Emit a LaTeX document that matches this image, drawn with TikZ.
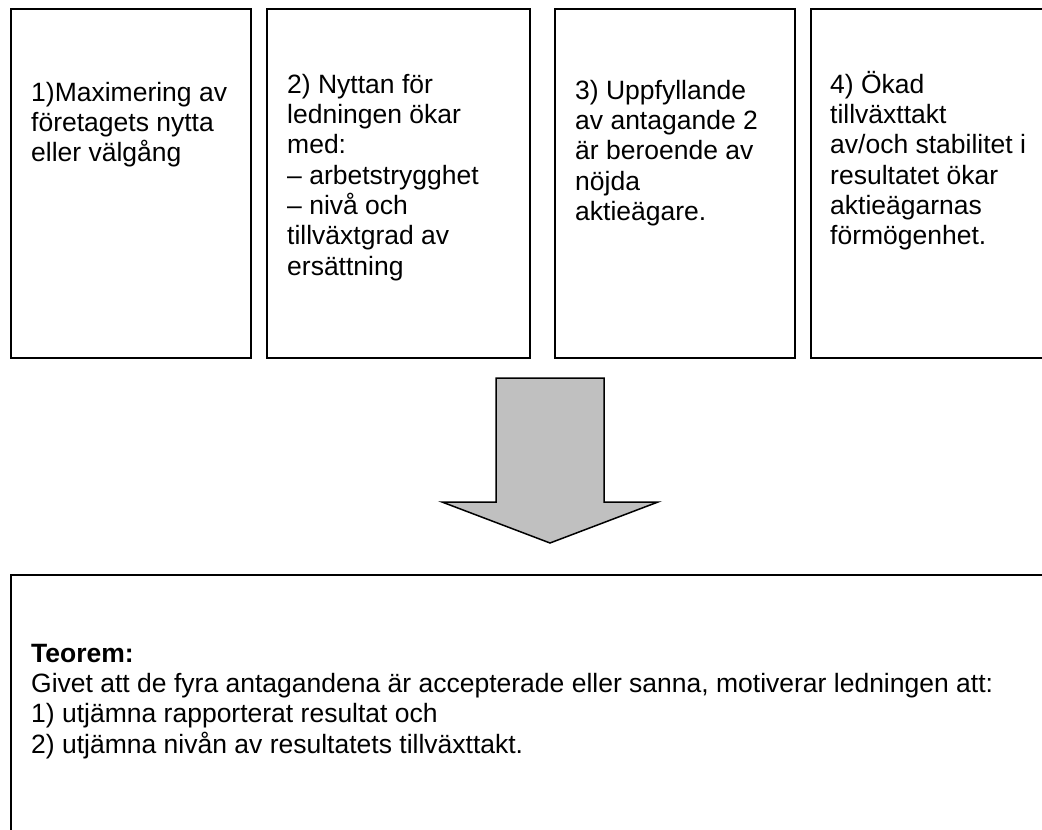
\documentclass[tikz,border=0pt]{standalone}
\usepackage{fontspec}
\setmainfont{Liberation Sans}
\definecolor{arrowgray}{HTML}{C0C0C0}
\begin{document}
\begin{tikzpicture}[x=1pt,y=-1pt,
  box/.style={draw=black,line width=2pt,rectangle,inner sep=0pt,anchor=north west},
  txt/.style={anchor=north west,inner sep=0pt,align=left,font=\fontsize{26.5}{30.3}\selectfont},
  bigarrow/.style={draw=black,line width=1.5pt,fill=arrowgray,line join=miter}]
\useasboundingbox (0,0) rectangle (1042,830);
\node[box,minimum width=240pt,minimum height=349pt] (b1) at (10,8) {};
\node[box,minimum width=263pt,minimum height=349pt] (b2) at (266,8) {};
\node[box,minimum width=240pt,minimum height=349pt] (b3) at (554,8) {};
\node[box,minimum width=250pt,minimum height=349pt] (b4) at (810,8) {};
\node[box,minimum width=1045pt,minimum height=270pt] (bb) at (10,574) {};
\node[txt] (t1) at (31,76) {\rule{0pt}{25pt}1)Maximering av\\företagets nytta\\eller välgång};
\node[txt] (t2) at (287,68) {\rule{0pt}{25pt}2) Nyttan för\\ledningen ökar\\med:\\– arbetstrygghet\\– nivå och\\tillväxtgrad av\\ersättning};
\node[txt] (t3) at (575,74) {\rule{0pt}{25pt}3) Uppfyllande\\av antagande 2\\är beroende av\\nöjda\\aktieägare.};
\node[txt] (t4) at (830,68) {\rule{0pt}{25pt}4) Ökad\\tillväxttakt\\av/och stabilitet i\\resultatet ökar\\aktieägarnas\\förmögenhet.};
\node[txt] (tb) at (31,637) {\rule{0pt}{25pt}\textbf{Teorem:}\\Givet att de fyra antagandena är accepterade eller sanna, motiverar ledningen att:\\1) utjämna rapporterat resultat och\\2) utjämna nivån av resultatets tillväxttakt.};
\coordinate (atop) at (550,378);
\coordinate (atip) at (550,543);
\draw[bigarrow] ([xshift=-54pt]atop) -- ([xshift=54pt]atop) -- ([xshift=54pt,yshift=-124pt]atop) -- ([xshift=108pt,yshift=-124pt]atop) -- (atip) -- ([xshift=-108pt,yshift=-124pt]atop) -- ([xshift=-54pt,yshift=-124pt]atop) -- cycle;
\end{tikzpicture}
\end{document}
